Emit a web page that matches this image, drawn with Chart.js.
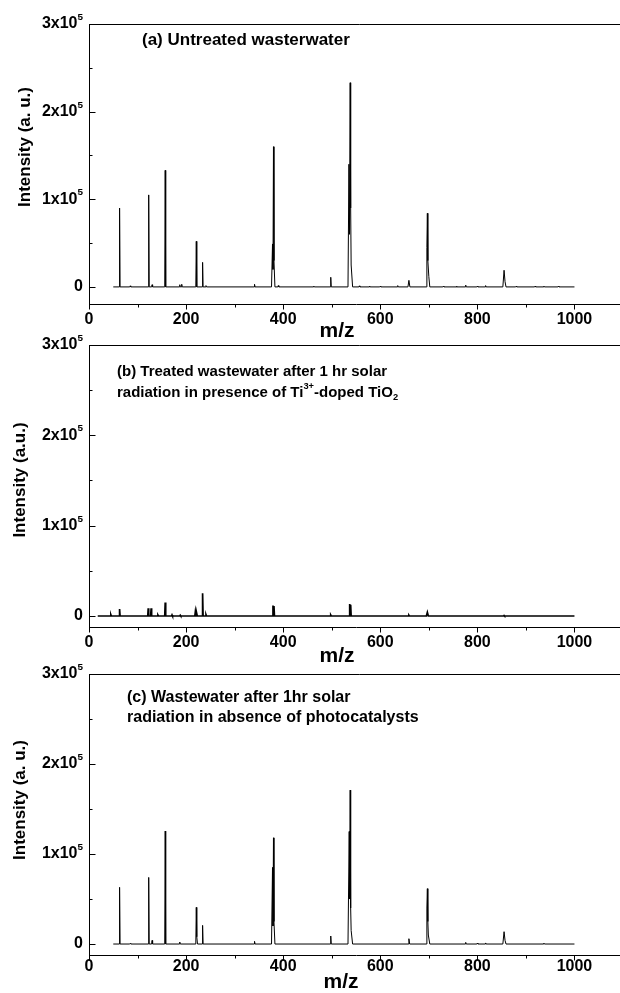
<!DOCTYPE html>
<html><head><meta charset="utf-8">
<script src="https://cdn.jsdelivr.net/npm/chart.js@4.4.1/dist/chart.umd.min.js"></script>
<style>
html,body{margin:0;padding:0;background:#fff;}
#wrap{position:relative;width:620px;height:993px;overflow:hidden;background:#fff;}
canvas{position:absolute;left:0;}
</style></head><body>
<div id="wrap">
<canvas id="cA" width="630" height="345" style="top:0px"></canvas>
<canvas id="cB" width="630" height="336" style="top:330px"></canvas>
<canvas id="cC" width="630" height="338" style="top:655px"></canvas>
</div>
<script>
// ---------------- data ----------------
// (a) Untreated wastewater
const A_MZ = [50,
  62, 63, 64, 84, 85, 86, 122, 123, 124, 129, 130, 131, 156, 157, 158,
  186, 187, 188, 190, 191, 192, 220, 221, 222, 233, 234, 235, 240, 241, 242,
  340, 341, 342, 376, 378, 379, 380, 381, 383, 389, 390, 391, 462, 463, 464,
  497, 498, 499, 533.5, 535.5, 536.5, 538, 539, 540, 543, 556, 557, 558,
  577, 578, 579, 599, 600, 601, 635, 636, 637, 657, 659, 661,
  694.5, 696, 697, 698, 700, 702, 729, 730, 731, 756, 757, 758, 775, 776, 777,
  799, 800, 801, 816, 817, 818, 852.5, 855, 857, 859, 879, 880, 881,
  918, 919, 920, 936, 937, 938, 966, 967, 968, 1000];
const A_INT = [0,
  0, 90000, 0, 0, 1200, 0, 0, 105000, 0, 0, 2500, 0, 0, 133000, 0,
  0, 2500, 0, 0, 3000, 0, 0, 52000, 0, 0, 28000, 0, 0, 1500, 0,
  0, 3000, 0, 0, 49000, 20000, 160000, 30000, 0, 0, 1500, 0, 0, 1000, 0,
  0, 11000, 0, 0, 140000, 60000, 233000, 90000, 25000, 0, 0, 1200, 0,
  0, 1000, 0, 0, 800, 0, 0, 1500, 0, 0, 7500, 0,
  0, 45000, 84000, 30000, 12000, 0, 0, 800, 0, 0, 800, 0, 0, 2000, 0,
  0, 800, 0, 0, 1500, 0, 0, 19000, 6000, 0, 0, 800, 0,
  0, 1000, 0, 0, 1000, 0, 0, 800, 0, 0];

// (b) Treated, Ti3+-doped TiO2
const B_MZ = [18,
  44, 45, 46, 62, 63, 64, 121, 122, 123, 127, 128, 129, 141, 142, 143,
  156, 157, 158, 170, 171, 172, 187, 188, 189, 218, 219, 220, 221, 222, 223,
  233, 234, 235, 240, 241, 242, 378, 379, 380, 381, 382, 497, 498, 499,
  536, 537, 538, 539, 540, 658, 659, 660, 695, 697, 699, 854, 855, 856, 1000];
const B_INT = [0,
  0, 1500, 0, 0, 7800, 0, 0, 8500, 0, 0, 8500, 0, 0, 1000, 0,
  0, 14800, 0, 0, 1200, 0, 0, 800, 0, 0, 4500, 0, 0, 2500, 0,
  0, 25200, 0, 0, 1500, 0, 0, 11500, 6000, 11000, 0, 0, 1000, 0,
  0, 13300, 7000, 12500, 0, 0, 800, 0, 0, 4000, 0, 0, 600, 0, 0];

// (c) No photocatalyst
const C_MZ = [50,
  62, 63, 64, 84, 85, 86, 122, 123, 124, 129, 130, 131, 156, 157, 158,
  186, 187, 188, 220, 221, 222, 223.5, 233, 234, 235, 340, 341, 342,
  376, 378, 379, 380, 381, 383, 497, 498, 499, 533.5, 536, 537, 538, 539, 540, 543,
  657.5, 659, 660.5, 694.5, 696, 697, 698, 699, 702, 775, 776, 777, 799, 800, 801,
  816, 817, 818, 852.5, 855, 857, 859, 936, 937, 938, 1000];
const C_INT = [0,
  0, 63000, 0, 0, 600, 0, 0, 74000, 0, 0, 4000, 0, 0, 125500, 0,
  0, 2200, 0, 0, 40700, 8000, 0, 0, 20700, 0, 0, 3000, 0,
  0, 85000, 20000, 118000, 25000, 0, 0, 8900, 0, 0, 125000, 50000, 171000, 40000, 15000, 0,
  0, 5900, 0, 0, 40000, 61500, 25000, 10000, 0, 0, 1800, 0, 0, 1000, 0,
  0, 1200, 0, 0, 13700, 4000, 0, 0, 1000, 0, 0];

// ticks
const X_MAJOR = [0, 200, 400, 600, 800, 1000];
const X_MINOR = [100, 300, 500, 700, 900];
const X_LABELS = ['0', '200', '400', '600', '800', '1000'];
const Y_MAJOR = [0, 100000, 200000, 300000];
const Y_MINOR = [50000, 150000, 250000];
const Y_LABEL_BASE = ['0', '1x10', '2x10', '3x10'];
const Y_LABEL_EXP = ['', '5', '5', '5'];

// texts
const X_TITLE = 'm/z';
const Y_TITLES = ['Intensity (a. u.)', 'Intensity (a.u.)', 'Intensity (a. u.)'];
const NOTE_A = [[['(a) Untreated wasterwater', '']]];
const NOTE_B = [[['(b) Treated wastewater after 1 hr solar', '']],
                [['radiation in presence of Ti', ''], ['3+', 'sup'], ['-doped TiO', ''], ['2', 'sub']]];
const NOTE_C = [[['(c) Wastewater after 1hr solar', '']],
                [['radiation in absence of photocatalysts', '']]];

// ---------------- drawing ----------------
const FONT = "'Liberation Sans', Arial, Helvetica, sans-serif";

function drawRich(ctx, parts, x, y, size, align) {
  const segs = parts.map(([t, k]) => {
    const s = k ? size * 0.62 : size;
    ctx.font = 'bold ' + s + 'px ' + FONT;
    return {t, k, s, w: ctx.measureText(t).width};
  });
  const total = segs.reduce((a, g) => a + g.w, 0);
  let cx = align === 'right' ? x - total : (align === 'center' ? x - total / 2 : x);
  ctx.textAlign = 'left';
  ctx.textBaseline = 'middle';
  for (const g of segs) {
    ctx.font = 'bold ' + g.s + 'px ' + FONT;
    const dy = g.k === 'sup' ? -size * 0.42 : (g.k === 'sub' ? size * 0.3 : 0);
    ctx.fillText(g.t, cx, y + dy);
    cx += g.w;
  }
}

function makePanel(id, mz, inten, P) {
  const canvas = document.getElementById(id);
  const H = canvas.height;
  const off = P.canvasTop;
  const deco = {
    id: 'deco' + id,
    afterDraw(chart) {
      const ctx = chart.ctx, xs = chart.scales.x, ys = chart.scales.y;
      const ca = chart.chartArea;
      ctx.save();
      ctx.strokeStyle = '#000';
      ctx.lineWidth = 1;
      // top frame line
      ctx.beginPath();
      ctx.moveTo(Math.round(ca.left) + 0.5, Math.round(ca.top) + 0.5);
      ctx.lineTo(canvas.width, Math.round(ca.top) + 0.5);
      ctx.stroke();
      // x ticks (outward)
      const xb = Math.round(ca.bottom) + 0.5;
      X_MAJOR.forEach(v => {
        const px = Math.round(xs.getPixelForValue(v)) + 0.5;
        ctx.beginPath(); ctx.moveTo(px, xb); ctx.lineTo(px, xb + 5); ctx.stroke();
      });
      X_MINOR.forEach(v => {
        const px = Math.round(xs.getPixelForValue(v)) + 0.5;
        ctx.beginPath(); ctx.moveTo(px, xb); ctx.lineTo(px, xb + 3); ctx.stroke();
      });
      // y ticks (inward)
      const yl = Math.round(ca.left) + 0.5;
      Y_MAJOR.forEach(v => {
        const py = Math.round(ys.getPixelForValue(v)) + 0.5;
        ctx.beginPath(); ctx.moveTo(yl, py); ctx.lineTo(yl + 6, py); ctx.stroke();
      });
      Y_MINOR.forEach(v => {
        const py = Math.round(ys.getPixelForValue(v)) + 0.5;
        ctx.beginPath(); ctx.moveTo(yl, py); ctx.lineTo(yl + 3, py); ctx.stroke();
      });
      ctx.fillStyle = '#000';
      // x tick labels
      X_MAJOR.forEach((v, i) => {
        drawRich(ctx, [[X_LABELS[i], '']], xs.getPixelForValue(v), P.xLabelY - off, 16, 'center');
      });
      // y tick labels
      Y_MAJOR.forEach((v, i) => {
        const py = ys.getPixelForValue(v);
        const parts = Y_LABEL_EXP[i] ? [[Y_LABEL_BASE[i], ''], [Y_LABEL_EXP[i], 'sup']] : [[Y_LABEL_BASE[i], '']];
        drawRich(ctx, parts, P.yLabelRight, py, 16, 'right');
      });
      // x title
      drawRich(ctx, [[X_TITLE, '']], P.xTitle[0], P.xTitle[1] - off, 21, 'center');
      // y title
      ctx.save();
      ctx.translate(P.yTitle[0], P.yTitle[1] - off);
      ctx.rotate(-Math.PI / 2);
      drawRich(ctx, [[P.yTitleText, '']], 0, 0, 17, 'center');
      ctx.restore();
      // notes
      P.note.forEach((line, i) => {
        drawRich(ctx, line, P.noteX, P.noteY[i] - off, P.noteSize, 'left');
      });
      ctx.restore();
    }
  };
  return new Chart(canvas, {
    type: 'scatter',
    data: {
      datasets: [{
        data: mz.map((m, i) => ({x: m, y: inten[i]})),
        showLine: true,
        borderColor: '#000',
        borderWidth: P.lw,
        pointRadius: 0,
        tension: 0,
        fill: false
      }]
    },
    options: {
      responsive: false,
      animation: false,
      devicePixelRatio: 1,
      events: [],
      layout: {padding: {top: P.plotTop - off, right: 7, bottom: 0, left: 0}},
      plugins: {legend: {display: false}, tooltip: {enabled: false}},
      scales: {
        x: {
          type: 'linear', min: 0, max: 1100,
          grid: {display: false, drawTicks: false},
          border: {display: true, color: '#000', width: 1},
          ticks: {display: false},
          afterFit: s => { s.height = H - (P.plotBottom - off); }
        },
        y: {
          type: 'linear', min: P.ymin, max: 300000,
          grid: {display: false, drawTicks: false},
          border: {display: true, color: '#000', width: 1},
          ticks: {display: false},
          afterFit: s => { s.width = 89; }
        }
      }
    },
    plugins: [deco]
  });
}

makePanel('cA', A_MZ, A_INT, {
  canvasTop: 0, plotTop: 24, plotBottom: 304, ymin: -19500, lw: 1,
  xLabelY: 320, yLabelRight: 83, xTitle: [337, 331], yTitle: [25, 147], yTitleText: Y_TITLES[0],
  note: NOTE_A, noteX: 142, noteY: [40], noteSize: 17
});
makePanel('cB', B_MZ, B_INT, {
  canvasTop: 330, plotTop: 345, plotBottom: 627, ymin: -12200, lw: 1.7,
  xLabelY: 643, yLabelRight: 83, xTitle: [337, 656], yTitle: [20, 480], yTitleText: Y_TITLES[1],
  note: NOTE_B, noteX: 117, noteY: [372, 393], noteSize: 15
});
makePanel('cC', C_MZ, C_INT, {
  canvasTop: 655, plotTop: 674, plotBottom: 955, ymin: -12200, lw: 1,
  xLabelY: 967, yLabelRight: 83, xTitle: [341, 982], yTitle: [20, 800], yTitleText: Y_TITLES[2],
  note: NOTE_C, noteX: 127, noteY: [698, 718], noteSize: 16
});
</script>
</body></html>
